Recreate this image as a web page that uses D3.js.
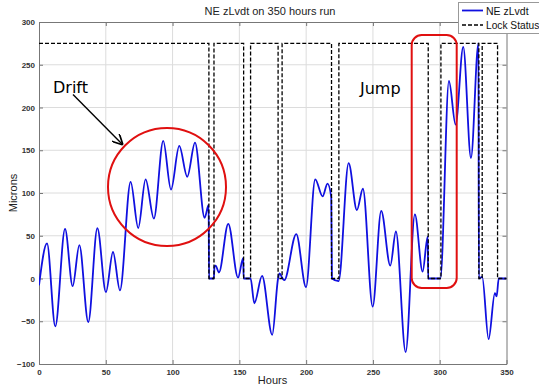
<!DOCTYPE html>
<html><head><meta charset="utf-8">
<script src="https://cdn.jsdelivr.net/npm/d3@7"></script>
<style>
html,body{margin:0;padding:0;background:#fff;overflow:hidden;}
svg{display:block;font-family:"Liberation Sans",Arial,sans-serif;}
</style></head>
<body>
<svg id="c" width="539" height="386"></svg>
<script>
// ---- data ----
const titleText = "NE zLvdt on 350 hours run";
const xLabel = "Hours";
const yLabel = "Microns";
const seriesNames = ["NE zLvdt", "Lock Status"];
const xTicks = [0, 50, 100, 150, 200, 250, 300, 350];
const yTicks = [-100, -50, 0, 50, 100, 150, 200, 250, 300];

const zHours = [0, 6, 12.2, 19.5, 25.2, 30.2, 36.9, 43.7, 50.1, 55.4, 60.6, 68.6, 74.3, 79.8, 86, 93, 98.8, 105, 111, 116.8, 124, 127, 127.3,
  130.9, 131.4, 132.2, 134.7, 141.7, 149, 152.9, 153.2, 158.4, 161.2, 167, 174.6, 179, 180.1, 182, 183.6, 192.6, 199.9, 206.8, 212.3, 216, 218.8, 219.3,
  224.3, 231.8, 238, 242.5, 249.8, 256.2, 263, 267.2, 274.5, 281.4, 287.2, 291, 291.4, 300.5, 306.9, 311.9, 317.6, 323.4, 329, 329.3,
  331.8, 336.6, 341.3, 342.6, 344.2, 350];
const zValues = [-8, 41, -56, 58, -9, 39, -51, 59, -16, 31, -14, 113, 59, 116, 70, 161, 104, 155, 119, 159, 71, 86, 0,
  0, 14, 15, 7, 64, 1, 24, 0, 0, -29, 3, -66, 0, 6, 1, -2, 52, -10, 116, 96, 111, 95, 0,
  -3, 135, 80, 105, -33, 79, 15, 55, -86, 75, 8, 49, 0, 0, 231, 180, 271, 141, 275, 0,
  2, -71, -17, -21, 0, 0];

const lockHours = [0, 127.2, 131, 153.2, 158.4, 179, 182, 219, 224.5, 291.4, 300.9, 329.3, 331.8, 343.3, 350];
const lockValues = [275, 0, 275, 0, 275, 0, 275, 0, 275, 0, 275, 0, 275, 0, 0];

// ---- chart ----
const svg = d3.select("#c");
const L = 39, R = 506.5, T = 22, B = 364;
const x = d3.scaleLinear().domain([0, 350]).range([L, R]);
const y = d3.scaleLinear().domain([-100, 300]).range([B, T]);

// grid
const g = svg.append("g");
g.selectAll("line.gx").data(xTicks.slice(1, -1)).join("line")
  .attr("x1", d => x(d)).attr("x2", d => x(d)).attr("y1", T).attr("y2", B)
  .attr("stroke", "#dcdcdc").attr("stroke-width", 1);
g.selectAll("line.gy").data(yTicks.slice(1, -1)).join("line")
  .attr("y1", d => y(d)).attr("y2", d => y(d)).attr("x1", L).attr("x2", R)
  .attr("stroke", "#dcdcdc").attr("stroke-width", 1);

// axes
const axB = svg.append("g").attr("transform", `translate(0,${B})`)
  .call(d3.axisBottom(x).tickValues(xTicks).tickSizeInner(-4).tickSizeOuter(0).tickPadding(5));
const axL = svg.append("g").attr("transform", `translate(${L},0)`)
  .call(d3.axisLeft(y).tickValues(yTicks).tickSizeInner(-4).tickSizeOuter(0).tickPadding(4));
const axT = svg.append("g").attr("transform", `translate(0,${T})`)
  .call(d3.axisTop(x).tickValues(xTicks).tickSizeInner(-4).tickSizeOuter(0).tickFormat(""));
const axR = svg.append("g").attr("transform", `translate(${R},0)`)
  .call(d3.axisRight(y).tickValues(yTicks).tickSizeInner(-4).tickSizeOuter(0).tickFormat(""));
[axB, axL, axT, axR].forEach(a => {
  a.select(".domain").attr("stroke", "#777");
  a.selectAll(".tick line").attr("stroke", "#777");
  a.selectAll(".tick text").attr("fill", "#333").style("font-size", "8px")
    .style("font-family", "'Liberation Sans',Arial,sans-serif").style("font-weight", "bold");
});

// clip
svg.append("clipPath").attr("id", "clip").append("rect")
  .attr("x", L).attr("y", T).attr("width", R - L).attr("height", B - T);

// NE zLvdt
const zData = zHours.map((h, i) => [h, zValues[i]]);
svg.append("path").datum(zData).attr("clip-path", "url(#clip)")
  .attr("d", d3.line().x(d => x(d[0])).y(d => y(d[1])).curve(d3.curveMonotoneX))
  .attr("fill", "none").attr("stroke", "#1010e0").attr("stroke-width", 1.8);

// Lock status
const lData = lockHours.map((h, i) => [h, lockValues[i]]);
svg.append("path").datum(lData)
  .attr("d", d3.line().x(d => x(d[0])).y(d => y(d[1])).curve(d3.curveStepAfter))
  .attr("fill", "none").attr("stroke", "#000").attr("stroke-width", 1.3)
  .attr("stroke-dasharray", "4,2");

// title & labels
svg.append("text").attr("x", 270).attr("y", 15).attr("text-anchor", "middle")
  .style("font-size", "11px").attr("fill", "#222").text(titleText);
svg.append("text").attr("x", 272.5).attr("y", 384).attr("text-anchor", "middle")
  .style("font-size", "11px").attr("fill", "#222").text(xLabel);
svg.append("text").attr("transform", "translate(17,193) rotate(-90)").attr("text-anchor", "middle")
  .style("font-size", "11px").attr("fill", "#222").text(yLabel);

// legend
const lg = svg.append("g");
lg.append("rect").attr("x", 458.5).attr("y", 2.5).attr("width", 100).attr("height", 31)
  .attr("fill", "#fff").attr("stroke", "#999");
lg.append("line").attr("x1", 462).attr("x2", 483).attr("y1", 10.5).attr("y2", 10.5)
  .attr("stroke", "#1010e0").attr("stroke-width", 1.8);
lg.append("line").attr("x1", 462).attr("x2", 483).attr("y1", 25).attr("y2", 25)
  .attr("stroke", "#000").attr("stroke-width", 1.3).attr("stroke-dasharray", "4,2");
lg.append("text").attr("x", 486).attr("y", 14.5).style("font-size", "10.5px").attr("fill", "#111").text(seriesNames[0]);
lg.append("text").attr("x", 486).attr("y", 29).style("font-size", "10.2px").attr("fill", "#111").text(seriesNames[1]);

// annotations
svg.append("defs").append("marker").attr("id", "arr").attr("viewBox", "0 0 10 10")
  .attr("refX", 10).attr("refY", 5).attr("markerWidth", 8).attr("markerHeight", 8)
  .attr("orient", "auto").append("path").attr("d", "M0,0 L10,5 L0,10").attr("fill", "none")
  .attr("stroke", "#000").attr("stroke-width", 1.5);
svg.append("line").attr("x1", 73).attr("y1", 94.5).attr("x2", 123).attr("y2", 145)
  .attr("stroke", "#000").attr("stroke-width", 1.4).attr("marker-end", "url(#arr)");
svg.append("text").attr("x", 53).attr("y", 93).style("font-size", "16px")
  .style("font-family", "'DejaVu Sans',sans-serif").attr("fill", "#000").text("Drift");
svg.append("text").attr("x", 360).attr("y", 94).style("font-size", "16px")
  .style("font-family", "'DejaVu Sans',sans-serif").attr("fill", "#000").text("Jump");
svg.append("ellipse").attr("cx", 167).attr("cy", 187).attr("rx", 59).attr("ry", 59)
  .attr("fill", "none").attr("stroke", "#e01010").attr("stroke-width", 2);
svg.append("rect").attr("x", 411.7).attr("y", 35).attr("width", 45).attr("height", 253)
  .attr("rx", 10).attr("ry", 10)
  .attr("fill", "none").attr("stroke", "#e01010").attr("stroke-width", 2);
</script>
</body></html>
